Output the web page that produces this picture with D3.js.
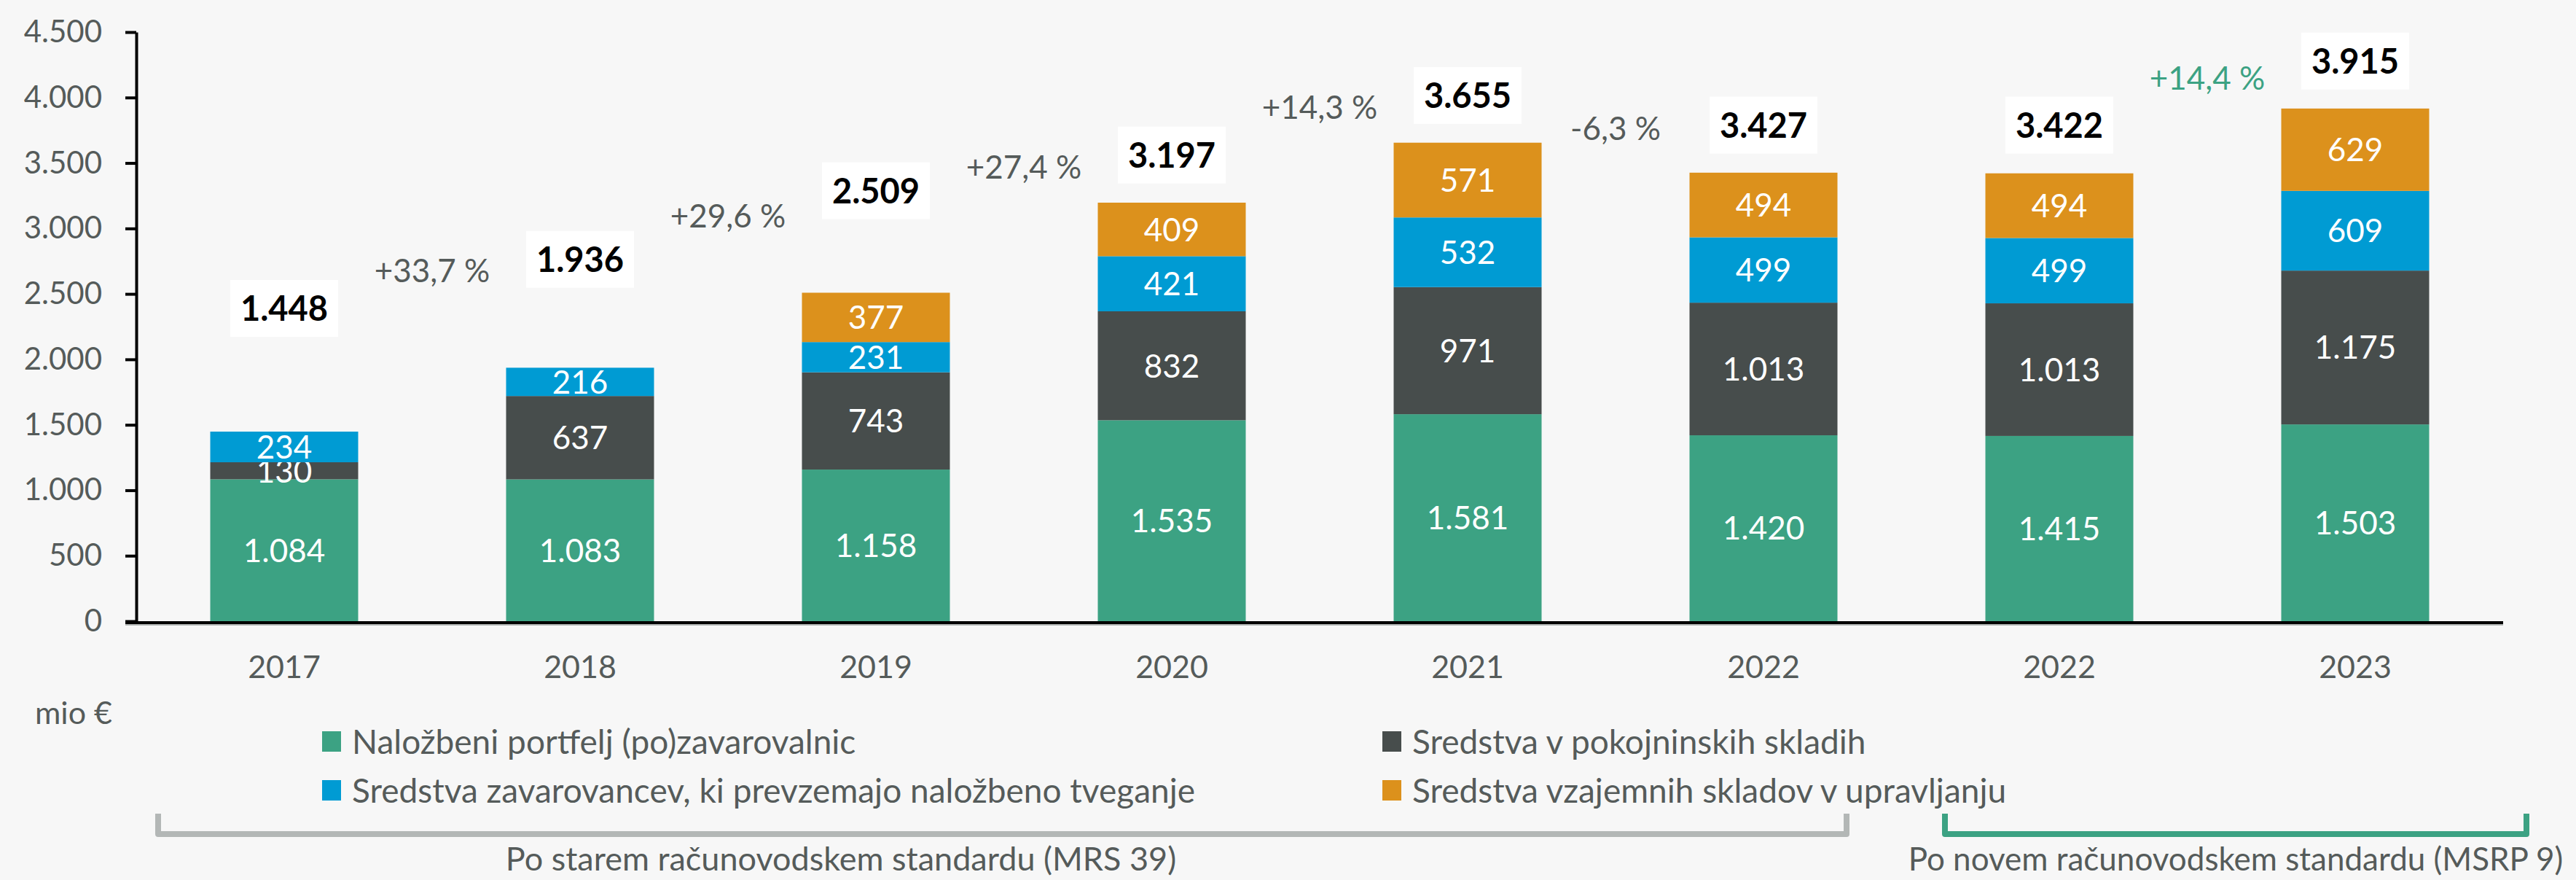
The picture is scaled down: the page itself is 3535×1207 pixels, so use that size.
<!DOCTYPE html>
<html>
<head>
<meta charset="utf-8">
<script src="https://cdn.jsdelivr.net/npm/d3@7"></script>
<style>
  html, body { margin: 0; padding: 0; background: #f7f7f7; }
  svg { display: block; font-family: Lato, "Open Sans", sans-serif; }
</style>
</head>
<body>
<svg id="chart" width="3535" height="1207"></svg>
<script>
// ---------- data ----------
const categories = ["2017", "2018", "2019", "2020", "2021", "2022", "2022", "2023"];
const seriesNames = [
  "Naložbeni portfelj (po)zavarovalnic",
  "Sredstva v pokojninskih skladih",
  "Sredstva zavarovancev, ki prevzemajo naložbeno tveganje",
  "Sredstva vzajemnih skladov v upravljanju"
];
const portfelj   = [1084, 1083, 1158, 1535, 1581, 1420, 1415, 1503];
const pokojninski = [130, 637, 743, 832, 971, 1013, 1013, 1175];
const zavarovanci = [234, 216, 231, 421, 532, 499, 499, 609];
const vzajemni    = [0, 0, 377, 409, 571, 494, 494, 629];
const totals      = [1448, 1936, 2509, 3197, 3655, 3427, 3422, 3915];
// level (in mio €) at which each total label sits
const totalLabelLevel = [2389, 2764, 3288, 3561, 4015, 3789, 3789, 4279];
// growth labels between consecutive bars (index = left bar)
const growthLabels = ["+33,7 %", "+29,6 %", "+27,4 %", "+14,3 %", "-6,3 %", "", "+14,4 %"];
const growthLevel  = [2679, 3096, 3470, 3926, 3765, 0, 4149];
const growthHighlight = [false, false, false, false, false, false, true];
const yTicks = [0, 500, 1000, 1500, 2000, 2500, 3000, 3500, 4000, 4500];
const unitLabel = "mio €";
const standardLabels = ["Po starem računovodskem standardu (MRS 39)", "Po novem računovodskem standardu (MSRP 9)"];

// ---------- style ----------
const colors = ["#3ca283", "#474d4c", "#009bd3", "#dc911c"];
const textGray = "#555b5a";

const svg = d3.select("#chart");
svg.append("rect").attr("width", 3535).attr("height", 1207).attr("fill", "#f7f7f7");

const locale = d3.formatLocale({ decimal: ",", thousands: ".", grouping: [3], currency: ["", " €"] });
const fmt = locale.format(",");

const idx = categories.map((d, i) => i);
const x = d3.scaleBand().domain(idx).range([187, 3435]).paddingInner(0.5).paddingOuter(0.25);
const y = d3.scaleLinear().domain([0, 4500]).range([852, 44]);

// stacked data
const table = idx.map(i => ({ i, s0: portfelj[i], s1: pokojninski[i], s2: zavarovanci[i], s3: vzajemni[i] }));
const stack = d3.stack().keys(["s0", "s1", "s2", "s3"]);
const layers = stack(table);

const gBars = svg.append("g");
layers.forEach((layer, li) => {
  gBars.selectAll(null).data(layer).enter().append("rect")
    .attr("x", d => x(d.data.i))
    .attr("width", x.bandwidth())
    .attr("y", d => y(d[1]))
    .attr("height", d => y(d[0]) - y(d[1]))
    .attr("fill", colors[li]);
  gBars.selectAll(null).data(layer.filter(d => d[1] - d[0] > 0)).enter().append("text")
    .attr("x", d => x(d.data.i) + x.bandwidth() / 2)
    .attr("y", d => (y(d[0]) + y(d[1])) / 2)
    .attr("dy", "0.36em")
    .attr("text-anchor", "middle")
    .attr("fill", "#ffffff")
    .attr("font-size", 44)
    .text(d => fmt(d[1] - d[0]));
});

// y axis
const yAxis = d3.axisLeft(y).tickValues(yTicks).tickSize(15).tickSizeOuter(0).tickPadding(32).tickFormat(fmt);
const gy = svg.append("g").attr("transform", "translate(187,0)").call(yAxis);
gy.select(".domain").attr("stroke", "#000").attr("stroke-width", 4);
gy.selectAll(".tick line").attr("stroke", "#000").attr("stroke-width", 4);
gy.selectAll(".tick text").attr("fill", textGray).attr("font-size", 42).attr("font-family", "Lato, sans-serif");

// x axis
const xAxis = d3.axisBottom(x).tickSize(0).tickSizeOuter(0).tickFormat(i => categories[i]);
const gx = svg.append("g").attr("transform", `translate(0,${y(0)})`).call(xAxis);
gx.select(".domain").remove();
gx.selectAll(".tick text").attr("y", 78).attr("dy", 0).attr("fill", textGray)
  .attr("font-size", 43).attr("font-family", "Lato, sans-serif");
svg.append("line").attr("x1", 172).attr("x2", 3435).attr("y1", y(0) + 2).attr("y2", y(0) + 2)
  .attr("stroke", "#000").attr("stroke-width", 4);
svg.append("line").attr("x1", 172).attr("x2", 3435).attr("y1", y(0) + 5).attr("y2", y(0) + 5)
  .attr("stroke", "#b0b4b3").attr("stroke-width", 2);

// total labels
const gTot = svg.append("g");
idx.forEach(i => {
  const cx = x(i) + x.bandwidth() / 2;
  const cy = y(totalLabelLevel[i]);
  gTot.append("rect").attr("x", cx - 74).attr("y", cy - 39).attr("width", 148).attr("height", 78).attr("fill", "#ffffff");
  gTot.append("text").attr("x", cx).attr("y", cy).attr("dy", "0.36em").attr("text-anchor", "middle")
    .attr("font-weight", 700).attr("font-size", 47).attr("fill", "#000").text(fmt(totals[i]));
});

// growth labels
growthLabels.forEach((t, i) => {
  if (!t) return;
  const cx = (x(i) + x(i + 1)) / 2 + x.bandwidth() / 2;
  svg.append("text").attr("x", cx).attr("y", y(growthLevel[i])).attr("dy", "0.36em")
    .attr("text-anchor", "middle").attr("font-size", 44)
    .attr("fill", growthHighlight[i] ? colors[0] : textGray).text(t);
});

// unit label
svg.append("text").attr("x", 48).attr("y", 993).attr("font-size", 43).attr("fill", textGray).text(unitLabel);

// legend
const legendPos = [[442, 1017], [1897, 1017], [442, 1084], [1897, 1084]];
seriesNames.forEach((name, k) => {
  const [lx, ly] = legendPos[k];
  svg.append("rect").attr("x", lx).attr("y", ly - 14).attr("width", 26).attr("height", 28).attr("fill", colors[k]);
  svg.append("text").attr("x", lx + 41).attr("y", ly).attr("dy", "0.36em").attr("font-size", 46)
    .attr("fill", textGray).text(name);
});

// brackets
const bracket = (x1, x2, color) => svg.append("path")
  .attr("d", `M${x1},1116 L${x1},1144 L${x2},1144 L${x2},1116`)
  .attr("fill", "none").attr("stroke", color).attr("stroke-width", 8).attr("stroke-linejoin", "round");
bracket(217, 2534, "#b3b7b6");
bracket(2669, 3467, colors[0]);

svg.append("text").attr("x", 1154).attr("y", 1194).attr("text-anchor", "middle").attr("font-size", 45)
  .attr("fill", textGray).text(standardLabels[0]);
svg.append("text").attr("x", 3068).attr("y", 1194).attr("text-anchor", "middle").attr("font-size", 44)
  .attr("fill", textGray).text(standardLabels[1]);
</script>
</body>
</html>
